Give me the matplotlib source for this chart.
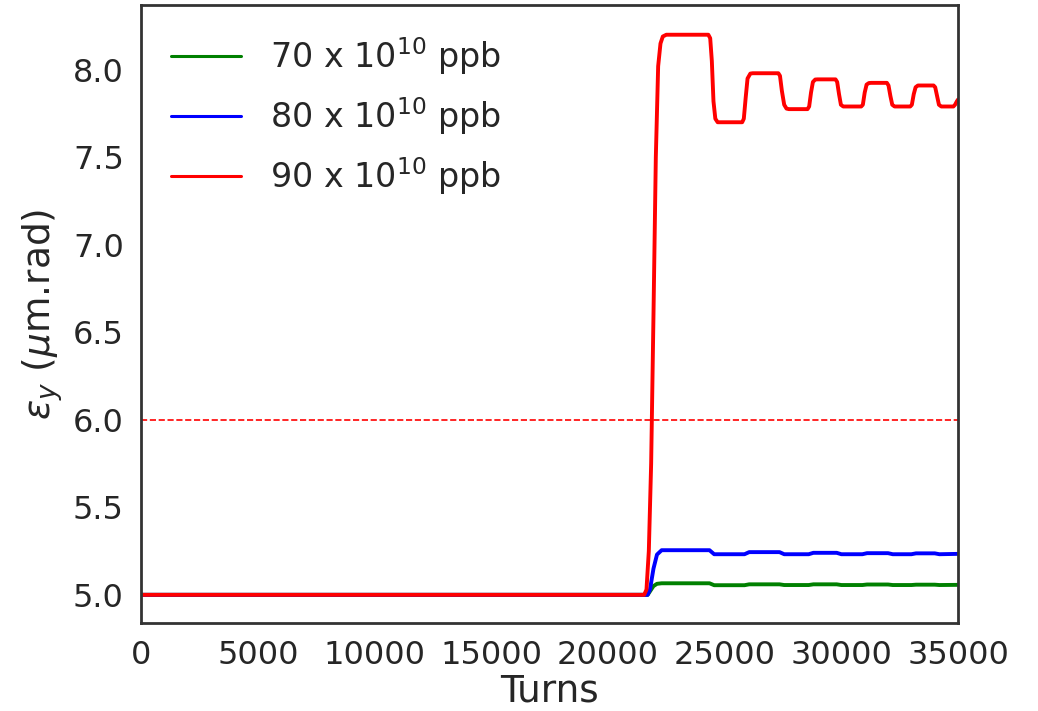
import numpy as np
import matplotlib
matplotlib.use("Agg")
import matplotlib.pyplot as plt
import seaborn as sns

sns.set_style("white")
plt.rcParams['font.family'] = ['DejaVu Sans']

# emittance vs turns for three bunch intensities
turns_70 = [0, 21700, 21800, 21950, 22100, 22300, 24350, 24550, 25850, 26050,
            27350, 27550, 28600, 28800, 29800, 30000, 30900, 31100, 32000, 32200,
            33000, 33200, 34000, 34200, 35000]
emit_70 = [5.0, 5.0, 5.02, 5.05, 5.063, 5.066, 5.066, 5.055, 5.055, 5.06,
           5.06, 5.056, 5.056, 5.06, 5.06, 5.056, 5.056, 5.059, 5.059, 5.056,
           5.056, 5.058, 5.058, 5.056, 5.057]

turns_80 = [0, 21700, 21800, 21950, 22100, 22300, 24350, 24550, 25850, 26050,
            27350, 27550, 28600, 28800, 29800, 30000, 30900, 31100, 32000, 32200,
            33000, 33200, 34000, 34200, 35000]
emit_80 = [5.0, 5.0, 5.03, 5.15, 5.23, 5.255, 5.255, 5.232, 5.232, 5.244,
           5.244, 5.232, 5.232, 5.240, 5.240, 5.232, 5.232, 5.238, 5.238, 5.232,
           5.232, 5.237, 5.237, 5.232, 5.234]

turns_90 = [0, 21550, 21650, 21750, 21850, 21950, 22050, 22150, 22250, 22350, 22500,
            24300, 24380, 24450, 24520, 24600, 24700, 24800,
            25750, 25820, 25900, 25980, 26100, 26200,
            27300, 27370, 27450, 27550, 27650, 27750,
            28550, 28620, 28700, 28780, 28880, 28980,
            29750, 29820, 29900, 29980, 30080, 30180,
            30850, 30920, 31000, 31080, 31180, 31280,
            31950, 32020, 32100, 32180, 32280, 32380,
            32950, 33020, 33100, 33180, 33280, 33380,
            33950, 34020, 34100, 34180, 34280, 34380,
            34800, 34870, 34950, 35000]
emit_90 = [5.0, 5.0, 5.03, 5.25, 5.75, 6.6, 7.5, 8.02, 8.15, 8.19, 8.2,
           8.2, 8.18, 8.05, 7.82, 7.72, 7.70, 7.70,
           7.70, 7.72, 7.84, 7.95, 7.978, 7.98,
           7.98, 7.965, 7.88, 7.80, 7.778, 7.775,
           7.775, 7.79, 7.87, 7.93, 7.944, 7.945,
           7.945, 7.93, 7.86, 7.80, 7.79, 7.79,
           7.79, 7.80, 7.87, 7.915, 7.924, 7.925,
           7.925, 7.91, 7.85, 7.80, 7.79, 7.79,
           7.79, 7.80, 7.86, 7.90, 7.91, 7.91,
           7.91, 7.90, 7.85, 7.80, 7.79, 7.79,
           7.79, 7.80, 7.82, 7.83]

emit_limit = 6.0

fig = plt.figure(figsize=(10.38, 7.11), dpi=100)
ax = fig.add_axes([0.136, 0.124, 0.787, 0.869])

ax.plot(turns_70, emit_70, color='green', lw=2.8, label=r'70 x $10^{10}$ ppb')
ax.plot(turns_80, emit_80, color='blue', lw=2.8, label=r'80 x $10^{10}$ ppb')
ax.plot(turns_90, emit_90, color='red', lw=2.8, label=r'90 x $10^{10}$ ppb')
ax.axhline(emit_limit, color='red', ls='--', lw=1.2)

ax.set_xlim(0, 35000)
ax.set_ylim(4.84, 8.37)
ax.set_xticks(np.arange(0, 35001, 5000))
ax.set_yticks(np.arange(5.0, 8.01, 0.5))
ax.tick_params(labelsize=23, colors='#262626', pad=9)
ax.set_xlabel('Turns', fontsize=27, color='#262626', labelpad=2)
ax.set_ylabel(r'$\epsilon_y$ ($\mu$m.rad)', fontsize=27, color='#262626', labelpad=6)

for s in ax.spines.values():
    s.set_color('#333333')
    s.set_linewidth(2)

leg = ax.legend(loc='upper left', fontsize=24, frameon=False,
                handlelength=2.1, handletextpad=0.85, labelspacing=0.55,
                borderaxespad=0.5)
for t in leg.get_texts():
    t.set_color('#262626')
for l in leg.get_lines():
    l.set_linewidth(2.2)

fig.savefig('out.png', dpi=100)
